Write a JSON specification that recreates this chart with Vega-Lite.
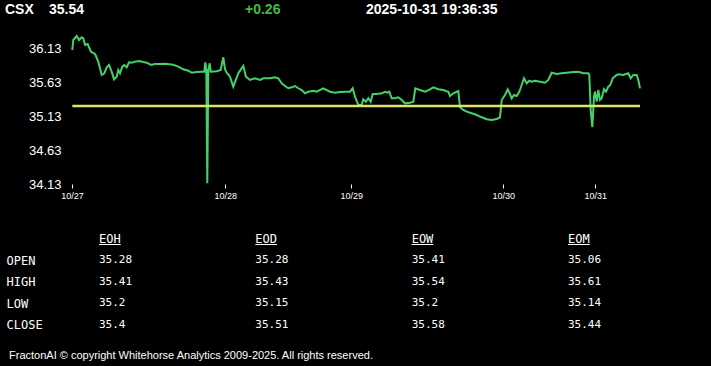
{
  "$schema": "https://vega.github.io/schema/vega-lite/v6.json",
  "width": 711,
  "height": 366,
  "autosize": "none",
  "padding": 0,
  "background": "#000000",
  "config": {"view": {"stroke": null}, "axis": {"grid": false}},
  "title": {
    "text": "FractonAI © copyright Whitehorse Analytics 2009-2025. All rights reserved.",
    "orient": "bottom",
    "anchor": "start",
    "frame": "group",
    "offset": -16,
    "dx": 9,
    "color": "#ffffff",
    "font": "Liberation Sans",
    "fontSize": 11,
    "fontWeight": "normal"
  },
  "datasets": {
    "head": [{"symbol": "CSX", "last": "35.54", "change": "+0.26", "time": "2025-10-31 19:36:35"}],
    "cols": [{"col": "EOH"}, {"col": "EOD"}, {"col": "EOW"}, {"col": "EOM"}],
    "table": [
      {"row": "OPEN", "col": "EOH", "val": "35.28"}, {"row": "OPEN", "col": "EOD", "val": "35.28"}, {"row": "OPEN", "col": "EOW", "val": "35.41"}, {"row": "OPEN", "col": "EOM", "val": "35.06"},
      {"row": "HIGH", "col": "EOH", "val": "35.41"}, {"row": "HIGH", "col": "EOD", "val": "35.43"}, {"row": "HIGH", "col": "EOW", "val": "35.54"}, {"row": "HIGH", "col": "EOM", "val": "35.61"},
      {"row": "LOW", "col": "EOH", "val": "35.2"}, {"row": "LOW", "col": "EOD", "val": "35.15"}, {"row": "LOW", "col": "EOW", "val": "35.2"}, {"row": "LOW", "col": "EOM", "val": "35.14"},
      {"row": "CLOSE", "col": "EOH", "val": "35.4"}, {"row": "CLOSE", "col": "EOD", "val": "35.51"}, {"row": "CLOSE", "col": "EOW", "val": "35.58"}, {"row": "CLOSE", "col": "EOM", "val": "35.44"}
    ],
    "line": [
      {"t":0.3,"v":36.105},{"t":1.3,"v":36.252},{"t":4.7,"v":36.311},{"t":7.0,"v":36.252},{"t":9.7,"v":36.292},{"t":11.3,"v":36.277},{"t":13.0,"v":36.179},{"t":15.7,"v":36.193},{"t":17.0,"v":36.145},{"t":19.0,"v":36.080},
      {"t":23.0,"v":36.046},{"t":26.3,"v":35.933},{"t":29.7,"v":35.737},{"t":32.3,"v":35.762},{"t":34.7,"v":35.850},{"t":37.0,"v":35.884},{"t":39.7,"v":35.785},{"t":42.0,"v":35.673},{"t":44.7,"v":35.711},{"t":46.3,"v":35.810},
      {"t":48.0,"v":35.762},{"t":50.3,"v":35.859},{"t":52.3,"v":35.884},{"t":54.7,"v":35.850},{"t":57.0,"v":35.924},{"t":59.7,"v":35.918},{"t":63.0,"v":35.933},{"t":67.0,"v":35.943},{"t":71.3,"v":35.928},{"t":74.7,"v":35.918},
      {"t":79.0,"v":35.884},{"t":83.0,"v":35.899},{"t":88.0,"v":35.899},{"t":93.0,"v":35.903},{"t":101.3,"v":35.888},{"t":106.3,"v":35.859},{"t":111.3,"v":35.821},{"t":116.3,"v":35.800},{"t":119.7,"v":35.770},{"t":124.7,"v":35.781},
      {"t":129.7,"v":35.785},{"t":132.3,"v":35.785},{"t":133.3,"v":35.924},{"t":134.3,"v":35.810},{"t":135.3,"v":34.140},{"t":136.3,"v":35.810},{"t":137.7,"v":35.909},{"t":138.7,"v":35.785},{"t":144.7,"v":35.791},{"t":148.7,"v":35.810},
      {"t":151.3,"v":35.997},{"t":153.0,"v":35.821},{"t":154.7,"v":35.770},{"t":158.0,"v":35.711},{"t":161.3,"v":35.564},{"t":166.3,"v":35.762},{"t":171.3,"v":35.869},{"t":174.0,"v":35.711},{"t":178.0,"v":35.663},{"t":183.0,"v":35.688},
      {"t":188.0,"v":35.663},{"t":191.3,"v":35.688},{"t":198.0,"v":35.688},{"t":203.0,"v":35.703},{"t":206.3,"v":35.688},{"t":209.7,"v":35.614},{"t":213.0,"v":35.574},{"t":216.3,"v":35.541},{"t":219.7,"v":35.555},{"t":223.0,"v":35.574},
      {"t":226.3,"v":35.541},{"t":229.7,"v":35.515},{"t":233.0,"v":35.467},{"t":236.3,"v":35.490},{"t":241.3,"v":35.505},{"t":244.7,"v":35.490},{"t":251.3,"v":35.541},{"t":254.7,"v":35.515},{"t":258.0,"v":35.490},{"t":263.0,"v":35.476},
      {"t":268.0,"v":35.486},{"t":273.0,"v":35.490},{"t":278.0,"v":35.490},{"t":280.7,"v":35.541},{"t":283.0,"v":35.417},{"t":286.3,"v":35.294},{"t":289.7,"v":35.294},{"t":291.3,"v":35.378},{"t":294.0,"v":35.343},{"t":296.3,"v":35.393},
      {"t":298.7,"v":35.343},{"t":300.7,"v":35.457},{"t":304.7,"v":35.457},{"t":309.7,"v":35.467},{"t":313.0,"v":35.490},{"t":315.3,"v":35.476},{"t":317.3,"v":35.490},{"t":319.7,"v":35.393},{"t":323.0,"v":35.393},{"t":326.3,"v":35.408},
      {"t":329.7,"v":35.368},{"t":333.0,"v":35.319},{"t":338.0,"v":35.328},{"t":341.3,"v":35.343},{"t":343.3,"v":35.541},{"t":348.0,"v":35.515},{"t":353.0,"v":35.490},{"t":358.0,"v":35.526},{"t":361.3,"v":35.555},{"t":366.3,"v":35.526},
      {"t":371.3,"v":35.515},{"t":376.3,"v":35.490},{"t":378.0,"v":35.427},{"t":381.3,"v":35.467},{"t":386.3,"v":35.501},{"t":388.0,"v":35.260},{"t":391.3,"v":35.221},{"t":394.7,"v":35.196},{"t":399.7,"v":35.172},{"t":404.7,"v":35.147},
      {"t":409.7,"v":35.113},{"t":414.7,"v":35.084},{"t":419.7,"v":35.073},{"t":424.7,"v":35.088},{"t":428.0,"v":35.113},{"t":429.7,"v":35.368},{"t":433.0,"v":35.442},{"t":435.7,"v":35.526},{"t":438.0,"v":35.457},{"t":439.7,"v":35.393},
      {"t":442.0,"v":35.442},{"t":444.7,"v":35.427},{"t":447.3,"v":35.490},{"t":449.7,"v":35.589},{"t":452.0,"v":35.688},{"t":454.7,"v":35.614},{"t":457.3,"v":35.652},{"t":459.7,"v":35.638},{"t":463.0,"v":35.652},{"t":468.0,"v":35.638},
      {"t":473.0,"v":35.623},{"t":476.3,"v":35.663},{"t":479.7,"v":35.770},{"t":484.7,"v":35.751},{"t":489.7,"v":35.762},{"t":494.7,"v":35.770},{"t":501.3,"v":35.781},{"t":506.3,"v":35.785},{"t":511.3,"v":35.762},{"t":516.3,"v":35.762},
      {"t":517.3,"v":35.737},{"t":518.7,"v":35.221},{"t":520.3,"v":34.966},{"t":522.0,"v":35.417},{"t":523.0,"v":35.490},{"t":524.7,"v":35.343},{"t":526.3,"v":35.515},{"t":528.0,"v":35.368},{"t":529.7,"v":35.393},{"t":532.0,"v":35.526},
      {"t":534.0,"v":35.490},{"t":536.3,"v":35.564},{"t":538.3,"v":35.589},{"t":540.7,"v":35.688},{"t":544.7,"v":35.737},{"t":546.3,"v":35.747},{"t":551.3,"v":35.737},{"t":556.3,"v":35.762},{"t":558.7,"v":35.688},{"t":561.3,"v":35.737},
      {"t":564.7,"v":35.737},{"t":566.3,"v":35.663},{"t":568.0,"v":35.54}
    ]
  },
  "resolve": {"scale": {"x": "independent", "y": "independent"}},
  "layer": [
    {
      "data": {"name": "line"},
      "mark": {"type": "line", "color": "#45d16a", "strokeWidth": 2},
      "encoding": {
        "x": {
          "field": "t", "type": "quantitative",
          "scale": {"domain": [0, 568], "range": [72, 640], "nice": false, "zero": false},
          "axis": {
            "values": [0, 153.3, 279.3, 431.3, 523.3],
            "labelExpr": "datum.value < 50 ? '10/27' : datum.value < 200 ? '10/28' : datum.value < 350 ? '10/29' : datum.value < 480 ? '10/30' : '10/31'",
            "offset": -182, "domain": false, "grid": false,
            "tickSize": 4, "tickColor": "#ffffff", "tickWidth": 1,
            "labelColor": "#ffffff", "labelFont": "Liberation Sans", "labelFontSize": 9,
            "labelPadding": 3, "labelFlush": false, "labelOverlap": false, "title": null
          }
        },
        "y": {
          "field": "v", "type": "quantitative",
          "scale": {"domain": [34.13, 36.326], "range": [184, 35], "nice": false, "zero": false},
          "axis": {
            "values": [34.13, 34.63, 35.13, 35.63, 36.13], "format": ".2f",
            "offset": -72, "domain": false, "ticks": false, "grid": false,
            "labelPadding": 11, "labelColor": "#ffffff", "labelFont": "Liberation Sans",
            "labelFontSize": 13, "labelOverlap": false, "title": null
          }
        }
      }
    },
    {
      "data": {"name": "line"},
      "mark": {"type": "rule", "color": "#dde36b", "strokeWidth": 2.5},
      "encoding": {
        "x": {"aggregate": "min", "field": "t", "type": "quantitative", "scale": {"domain": [0, 568], "range": [72, 640], "nice": false, "zero": false}, "axis": null},
        "x2": {"aggregate": "max", "field": "t"},
        "y": {"datum": 35.28, "type": "quantitative", "scale": {"domain": [34.13, 36.326], "range": [184, 35], "nice": false, "zero": false}, "axis": null}
      }
    },
    {
      "data": {"name": "head"},
      "layer": [
        {
          "mark": {"type": "text", "align": "left", "baseline": "alphabetic", "font": "Liberation Sans", "fontSize": 14, "fontWeight": "bold", "color": "#ffffff"},
          "encoding": {
            "x": {"datum": 5, "type": "quantitative", "scale": {"domain": [0, 711], "range": [0, 711], "nice": false, "zero": false}, "axis": null},
            "y": {"datum": 13.5, "type": "quantitative", "scale": {"domain": [0, 366], "range": [0, 366], "nice": false, "zero": false}, "axis": null},
            "text": {"field": "symbol"}
          }
        },
        {
          "mark": {"type": "text", "align": "left", "baseline": "alphabetic", "font": "Liberation Sans", "fontSize": 14, "fontWeight": "bold", "color": "#ffffff"},
          "encoding": {
            "x": {"datum": 49, "type": "quantitative"},
            "y": {"datum": 13.5, "type": "quantitative"},
            "text": {"field": "last"}
          }
        },
        {
          "mark": {"type": "text", "align": "left", "baseline": "alphabetic", "font": "Liberation Sans", "fontSize": 14, "fontWeight": "bold", "color": "#3dbd3d"},
          "encoding": {
            "x": {"datum": 245, "type": "quantitative"},
            "y": {"datum": 13.5, "type": "quantitative"},
            "text": {"field": "change"}
          }
        },
        {
          "mark": {"type": "text", "align": "left", "baseline": "alphabetic", "font": "Liberation Sans", "fontSize": 14, "fontWeight": "bold", "color": "#ffffff"},
          "encoding": {
            "x": {"datum": 366, "type": "quantitative"},
            "y": {"datum": 13.5, "type": "quantitative"},
            "text": {"field": "time"}
          }
        }
      ]
    },
    {
      "layer": [
        {
          "data": {"name": "table"},
          "mark": {"type": "text", "align": "left", "baseline": "middle", "font": "DejaVu Sans Mono", "fontSize": 11, "color": "#ffffff"},
          "encoding": {
            "x": {"field": "col", "type": "nominal", "scale": {"type": "point", "domain": ["EOH", "EOD", "EOW", "EOM"], "range": [99, 568], "padding": 0}, "axis": null},
            "y": {
              "field": "row", "type": "nominal",
              "scale": {"type": "point", "domain": ["head", "OPEN", "HIGH", "LOW", "CLOSE"], "range": [238.5, 324.7], "padding": 0},
              "axis": {
                "orient": "left", "values": ["OPEN", "HIGH", "LOW", "CLOSE"], "domain": false, "ticks": false, "tickSize": 0,
                "labelAlign": "left", "labelBaseline": "middle", "labelPadding": -6, "labelFont": "DejaVu Sans Mono",
                "labelFontSize": 12, "labelColor": "#ffffff", "labelOverlap": false, "title": null
              }
            },
            "text": {"field": "val", "type": "nominal"}
          }
        },
        {
          "data": {"name": "cols"},
          "mark": {"type": "text", "align": "left", "baseline": "middle", "font": "DejaVu Sans Mono", "fontSize": 12, "color": "#ffffff"},
          "encoding": {
            "x": {"field": "col", "type": "nominal"},
            "y": {"datum": "head", "type": "nominal"},
            "text": {"field": "col", "type": "nominal"}
          }
        },
        {
          "data": {"name": "cols"},
          "mark": {"type": "rule", "color": "#ffffff", "strokeWidth": 1, "x2Offset": 21.7, "yOffset": 6},
          "encoding": {
            "x": {"field": "col", "type": "nominal"},
            "x2": {"field": "col"},
            "y": {"datum": "head", "type": "nominal"}
          }
        }
      ]
    }
  ]
}
